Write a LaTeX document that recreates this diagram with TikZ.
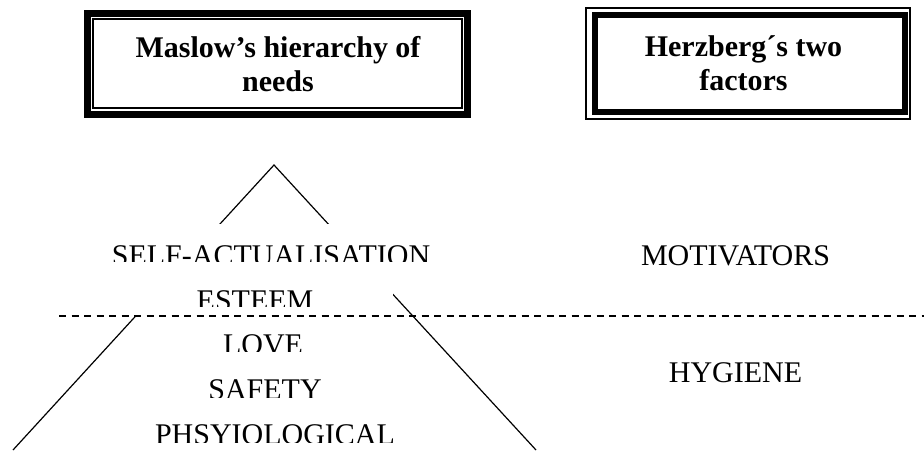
\documentclass[tikz,border=0pt]{standalone}
\usepackage{fontspec}
\setmainfont{Liberation Serif}
\begin{document}
\begin{tikzpicture}[x=1pt,y=-1pt,
  lbl/.style={font=\fontsize{30}{34}\selectfont, inner sep=0pt, anchor=base},
  ttl/.style={font=\fontsize{30}{34}\selectfont\bfseries, inner sep=0pt, anchor=base},
  frame/.style={draw, inner sep=0pt},
  pyr/.style={line width=1.2pt},
  mask/.style={fill=white, draw=none},
  divider/.style={line width=1.2pt, dash pattern=on 7pt off 5.5pt}]
\useasboundingbox (0,0) rectangle (924,450);
\fill[white] (0,0) rectangle (924,450);

% Maslow box: thick outer, thin inner
\node[frame, line width=7pt, minimum width=380pt, minimum height=101pt] (maslowouter) at (277.5,64) {};
\node[frame, line width=1.3pt, minimum width=369pt, minimum height=89pt] (maslowinner) at (277.5,63.5) {};
\node[ttl] (maslowA) at (278,57) {Maslow’s hierarchy of};
\node[ttl] (maslowB) at (278,91) {needs};

% Herzberg box: thin outer, thick inner
\node[frame, line width=1.3pt, minimum width=324pt, minimum height=111pt] (herzouter) at (748,63.5) {};
\node[frame, line width=6pt, minimum width=309.5pt, minimum height=97pt] (herzinner) at (749.75,63.5) {};
\node[ttl] (herzA) at (743.5,56.5) {Herzberg´s two};
\node[ttl] (herzB) at (743.5,90) {factors};

% pyramid
\coordinate (apex) at (274,165);
\coordinate (baseL) at (13,450);
\coordinate (baseR) at (536,450);
\draw[pyr] (baseL) -- (apex) -- (baseR);

% white text-box backgrounds hiding parts of the pyramid
\fill[mask] (100,224) rectangle (440,256);
\fill[mask] (120,256) rectangle (393,317);

% dashed divider
\coordinate (dashL) at (59,316);
\coordinate (dashR) at (924,316);
\draw[divider] (dashL) -- (dashR);

% pyramid labels (clipped at the bottom as in the reference)
\begin{scope}
  \clip (0,230) rectangle (924,261);
  \node[lbl] (selfact) at (271,265) {SELF-ACTUALISATION};
\end{scope}
\begin{scope}
  \clip (0,275) rectangle (924,306);
  \node[lbl] (esteem) at (255,310) {ESTEEM};
\end{scope}
\begin{scope}
  \clip (0,320) rectangle (924,351);
  \node[lbl] (love) at (263,354) {LOVE};
\end{scope}
\begin{scope}
  \clip (0,365) rectangle (924,397.5);
  \node[lbl] (safety) at (265,399.5) {SAFETY};
\end{scope}
\begin{scope}
  \clip (0,410) rectangle (924,442);
  \node[lbl] (physio) at (275,444) {PHSYIOLOGICAL};
\end{scope}

% Herzberg labels
\node[lbl] (motiv) at (735.5,265) {MOTIVATORS};
\node[lbl] (hygiene) at (735.5,382) {HYGIENE};
\end{tikzpicture}
\end{document}
